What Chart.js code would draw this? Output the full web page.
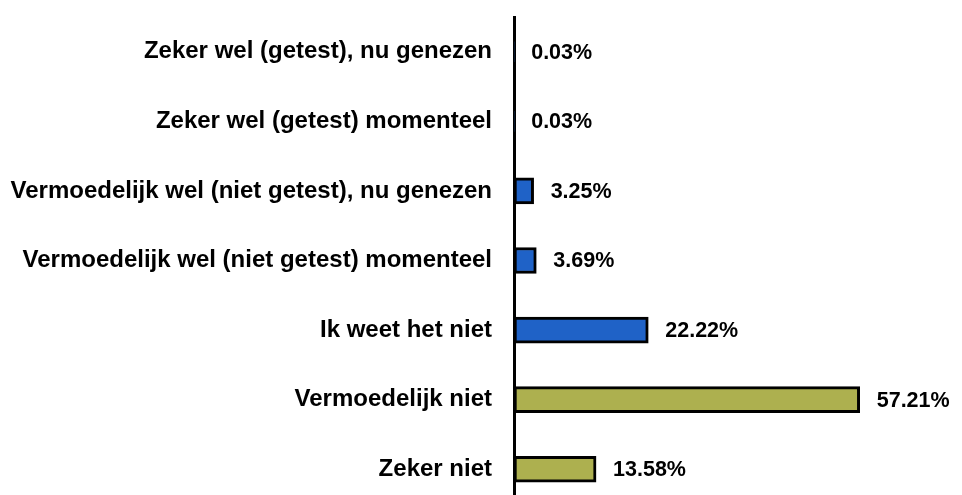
<!DOCTYPE html>
<html>
<head>
<meta charset="utf-8">
<script src="https://cdn.jsdelivr.net/npm/chart.js@4/dist/chart.umd.min.js"></script>
<style>
    html, body { margin: 0; padding: 0; overflow: hidden; background: #fff; }
    #wrap { width: 962px; height: 505px; position: relative; }
</style>
</head>
<body>
<div id="wrap"><canvas id="chart"></canvas></div>
<script>
// 데이터
const categories = [
    'Zeker wel (getest), nu genezen',
    'Zeker wel (getest) momenteel',
    'Vermoedelijk wel (niet getest), nu genezen',
    'Vermoedelijk wel (niet getest) momenteel',
    'Ik weet het niet',
    'Vermoedelijk niet',
    'Zeker niet'
];
const percentages = [0.03, 0.03, 3.25, 3.69, 22.22, 57.21, 13.58];
const groups = ['wel', 'wel', 'wel', 'wel', 'wel', 'niet', 'niet'];

const groupColors = { wel: '#1F62C7', niet: '#ADB04F' };

// 막대 끝 값 라벨
const valueLabels = {
    id: 'valueLabels',
    afterDatasetsDraw(chart) {
        const ctx = chart.ctx;
        const meta = chart.getDatasetMeta(0);
        ctx.save();
        ctx.font = 'bold 21.5px "Liberation Sans", Arial, sans-serif';
        ctx.fillStyle = '#000';
        ctx.textAlign = 'left';
        ctx.textBaseline = 'middle';
        meta.data.forEach((bar, i) => {
            ctx.fillText(percentages[i].toFixed(2) + '%', bar.x + 17, bar.y + 1);
        });
        ctx.restore();
    }
};

const ctx = document.getElementById('chart').getContext('2d');
new Chart(ctx, {
    type: 'bar',
    data: {
        labels: categories,
        datasets: [{
            data: percentages,
            backgroundColor: groups.map(g => groupColors[g]),
            borderColor: '#000',
            borderWidth: 3,
            borderSkipped: false,
            barThickness: 26
        }]
    },
    options: {
        indexAxis: 'y',
        responsive: true,
        maintainAspectRatio: false,
        animation: false,
        layout: { padding: { top: 17, right: 25, bottom: 1, left: 0 } },
        plugins: {
            legend: { display: false },
            tooltip: { enabled: false }
        },
        scales: {
            x: {
                display: false,
                min: 0,
                max: 70
            },
            y: {
                afterFit(scale) {
                    scale.width = 514;
                    scale.paddingTop = 0;
                    scale.paddingBottom = 0;
                },
                grid: { display: false, drawTicks: false },
                border: { display: true, color: '#000', width: 3 },
                ticks: {
                    padding: 22,
                    color: '#000',
                    font: { family: '"Liberation Sans", Arial, sans-serif', size: 24, weight: 'bold' }
                }
            }
        }
    },
    plugins: [valueLabels]
});
</script>
</body>
</html>
